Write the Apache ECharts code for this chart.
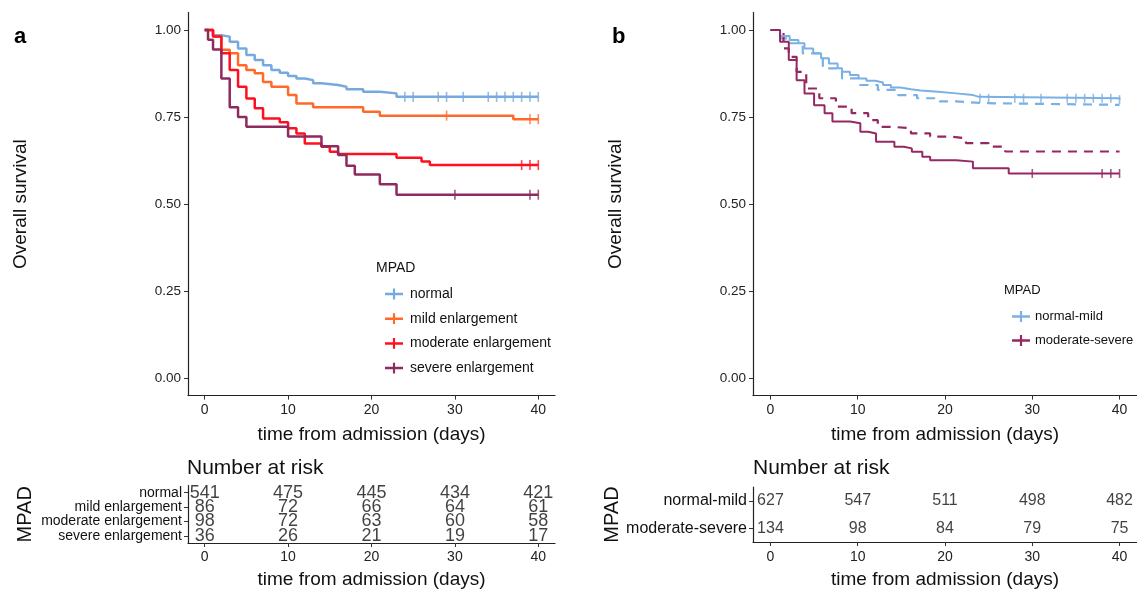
<!DOCTYPE html>
<html>
<head>
<meta charset="utf-8">
<script src="https://cdn.jsdelivr.net/npm/echarts@6/dist/echarts.min.js"></script>
<style>
  html, body { margin: 0; padding: 0; background: #fff; }
  #chart { width: 1137px; height: 590px; }
</style>
</head>
<body>
<div id="chart"></div>
<script>
// ---- panel a : four MPAD groups (step times in days, survival) ----
const normalT = [0, 1, 2, 3, 4, 5, 6, 7, 8, 9, 10, 11, 12, 13, 14, 16, 17, 19, 21, 23, 40];
const normalS = [1, 0.985, 0.981, 0.966, 0.947, 0.928, 0.914, 0.899, 0.885, 0.877, 0.868, 0.861, 0.856, 0.847, 0.842, 0.837, 0.830, 0.823, 0.818, 0.808, 0.808];
const normalCens = [24, 25, 28, 29, 31, 34, 35, 36, 37, 38, 39, 40];

const mildT = [0, 1, 2, 3, 4, 5, 6, 7, 8, 10, 11, 13, 19, 21, 37, 40];
const mildS = [1, 0.981, 0.943, 0.933, 0.899, 0.885, 0.876, 0.851, 0.837, 0.813, 0.789, 0.778, 0.765, 0.754, 0.744, 0.744];
const mildCens = [29, 39, 40];

const moderateT = [0, 1, 2, 3, 4, 5, 6, 7, 9, 10, 11, 12, 14, 15, 16, 23, 26, 27, 40];
const moderateS = [1, 0.981, 0.933, 0.885, 0.837, 0.803, 0.775, 0.746, 0.735, 0.718, 0.703, 0.674, 0.665, 0.650, 0.644, 0.633, 0.622, 0.612, 0.612];
const moderateCens = [38, 39, 40];

const severeT = [0, 0.4, 1, 2, 3, 4, 5, 10, 14, 16, 17, 18, 21, 23, 40];
const severeS = [1, 0.972, 0.944, 0.861, 0.778, 0.750, 0.722, 0.694, 0.666, 0.641, 0.610, 0.585, 0.557, 0.527, 0.527];
const severeCens = [30, 39, 40];

// ---- panel b : two merged groups, solid and dashed curves ----
const nmT = [0, 1.1, 2.2, 3.2, 3.9, 4.9, 5.8, 6.7, 7.7, 8.2, 9.1, 10.1, 11, 12, 12.9, 13.8, 14.9, 16.1, 17.2, 19.2, 21.3, 23.2, 23.9, 40];
const nmS = [1, 0.983, 0.971, 0.962, 0.947, 0.933, 0.919, 0.904, 0.890, 0.880, 0.871, 0.861, 0.854, 0.849, 0.842, 0.835, 0.830, 0.826, 0.823, 0.818, 0.813, 0.808, 0.804, 0.800];
const nmCens = [24, 25, 28, 29, 31, 34, 35, 36, 37, 38, 39, 40];
const nmDashT = [0, 1.1, 2.2, 3.7, 6, 8.2, 10.1, 12.3, 14.6, 16.8, 19.4, 21.3, 24.3, 40];
const nmDashS = [1, 0.976, 0.962, 0.933, 0.890, 0.861, 0.842, 0.828, 0.813, 0.804, 0.795, 0.790, 0.785, 0.785];

const msT = [0, 1.1, 2.1, 3, 3.9, 5, 6.2, 7.1, 9.1, 10.3, 11.2, 12.1, 14.2, 15.3, 16.2, 17.4, 18.3, 21.3, 23.2, 27.3, 40];
const msS = [1, 0.966, 0.914, 0.856, 0.818, 0.784, 0.761, 0.737, 0.732, 0.708, 0.703, 0.679, 0.665, 0.660, 0.650, 0.636, 0.626, 0.622, 0.603, 0.588, 0.588];
const msCens = [30, 38, 39, 40];
const msDashT = [0, 1.5, 2.1, 3, 4.1, 5.6, 7.5, 9.3, 11.2, 12.3, 13.8, 16.1, 18.3, 20.5, 22.4, 25, 26.9, 40];
const msDashS = [1, 0.947, 0.923, 0.880, 0.832, 0.804, 0.780, 0.761, 0.741, 0.722, 0.718, 0.703, 0.694, 0.689, 0.675, 0.665, 0.651, 0.651];

// ---- number at risk tables ----
const riskTimes = [0, 10, 20, 30, 40];
const groupsA = ["normal", "mild enlargement", "moderate enlargement", "severe enlargement"];
const riskA = [
  [541, 475, 445, 434, 421],
  [86, 72, 66, 64, 61],
  [98, 72, 63, 60, 58],
  [36, 26, 21, 19, 17]
];
const groupsB = ["normal-mild", "moderate-severe"];
const riskB = [
  [627, 547, 511, 498, 482],
  [134, 98, 84, 79, 75]
];

const yTicks = [0, 0.25, 0.5, 0.75, 1];

const FONT = "'Liberation Sans', Arial, sans-serif";
const BLUE = "#76AADF", ORANGE = "#FF6A2B", RED = "#FF1020", PURPLE = "#8E2A5E";
const BLUE_B = "#7AB0E3", PURPLE_B = "#952862";

const pairs = (T, S) => T.map((t, i) => [t, S[i]]);
const stepAt = (T, S, t) => {
  let v = S[0];
  for (let i = 0; i < T.length; i++) if (T[i] <= t) v = S[i];
  return v;
};

const chart = echarts.init(document.getElementById("chart"));

function kmLine(name, T, S, color, grid, width, dashed) {
  return {
    name: name,
    type: "line",
    step: "end",
    xAxisIndex: grid,
    yAxisIndex: grid,
    showSymbol: false,
    symbol: "none",
    silent: true,
    itemStyle: { color: color },
    lineStyle: { color: color, width: width, type: dashed ? [9, 7] : "solid" },
    data: pairs(T, S)
  };
}

function censMarks(name, T, S, cens, color, grid, h) {
  return {
    name: name + " censored",
    type: "scatter",
    xAxisIndex: grid,
    yAxisIndex: grid,
    symbol: "rect",
    symbolSize: [1.6, h],
    silent: true,
    itemStyle: { color: color },
    data: cens.map(t => [t, stepAt(T, S, t)])
  };
}

function riskSeries(groups, risk, grid, size) {
  const data = [];
  groups.forEach((g, r) => riskTimes.forEach((t, c) => data.push([t, g, risk[r][c]])));
  return {
    type: "scatter",
    xAxisIndex: grid,
    yAxisIndex: grid,
    symbolSize: 0,
    silent: true,
    label: {
      show: true,
      position: "inside",
      formatter: p => p.value[2],
      color: "#111",
      fontSize: size,
      fontFamily: FONT
    },
    data: data
  };
}

const axisLine = { show: true, onZero: false, lineStyle: { color: "#222", width: 1.2 } };
const tick = vals => ({ show: true, length: 4, lineStyle: { color: "#333" }, customValues: vals });

function timeAxis(grid, margin, nameGap) {
  return {
    type: "value",
    gridIndex: grid,
    min: -2,
    max: 42,
    axisLine: axisLine,
    axisTick: tick(riskTimes),
    axisLabel: { customValues: riskTimes, color: "#222", fontSize: 14, fontFamily: FONT, margin: margin },
    splitLine: { show: false },
    name: "time from admission (days)",
    nameLocation: "middle",
    nameGap: nameGap,
    nameTextStyle: { color: "#111", fontSize: 19, fontFamily: FONT }
  };
}

function survAxis(grid, nameGap) {
  return {
    type: "value",
    gridIndex: grid,
    min: -0.05,
    max: 1.05,
    axisLine: axisLine,
    axisTick: tick(yTicks),
    axisLabel: { customValues: yTicks, formatter: v => v.toFixed(2), color: "#222", fontSize: 13.5, fontFamily: FONT, margin: 7 },
    splitLine: { show: false },
    name: "Overall survival",
    nameLocation: "middle",
    nameRotate: 90,
    nameGap: nameGap,
    nameTextStyle: { color: "#111", fontSize: 19, fontFamily: FONT }
  };
}

function groupAxis(grid, groups, size, nameGap) {
  return {
    type: "category",
    gridIndex: grid,
    data: groups,
    inverse: true,
    axisLine: axisLine,
    axisTick: { show: true, length: 4, alignWithLabel: true, interval: 0, lineStyle: { color: "#333" } },
    axisLabel: { color: "#111", fontSize: size, fontFamily: FONT, margin: 6, interval: 0 },
    splitLine: { show: false },
    name: "MPAD",
    nameLocation: "middle",
    nameRotate: 90,
    nameGap: nameGap,
    nameTextStyle: { color: "#111", fontSize: 20, fontFamily: FONT }
  };
}

const crossIcon = "path://M0,4.6h20v2.8h-20z M8.8,0h2.4v12h-2.4z";

const option = {
  animation: false,
  backgroundColor: "#fff",
  textStyle: { fontFamily: FONT },
  grid: [
    { left: 188, top: 12.6, width: 367, height: 383 },
    { left: 753, top: 12.6, width: 392, height: 383 },
    { left: 188, top: 485.5, width: 367, height: 60 },
    { left: 753, top: 487, width: 392, height: 56 }
  ],
  xAxis: [timeAxis(0, 8, 30), timeAxis(1, 8, 30), timeAxis(2, 7, 27), timeAxis(3, 8, 28)],
  yAxis: [
    survAxis(0, 158),
    survAxis(1, 128),
    groupAxis(2, groupsA, 14, 153),
    groupAxis(3, groupsB, 16, 128)
  ],
  legend: [
    {
      data: ["normal", "mild enlargement", "moderate enlargement", "severe enlargement"],
      orient: "vertical",
      left: 380,
      top: 282,
      itemWidth: 18,
      itemHeight: 14,
      itemGap: 10.7,
      icon: crossIcon,
      itemStyle: { borderWidth: 0 },
      selectedMode: false,
      textStyle: { fontSize: 14, color: "#111", fontFamily: FONT, padding: [0, 0, 0, 2] }
    },
    {
      data: ["normal-mild", "moderate-severe"],
      orient: "vertical",
      left: 1007,
      top: 305,
      itemWidth: 18,
      itemHeight: 14,
      itemGap: 11,
      icon: crossIcon,
      itemStyle: { borderWidth: 0 },
      selectedMode: false,
      textStyle: { fontSize: 13, color: "#111", fontFamily: FONT, padding: [0, 0, 0, 0] }
    }
  ],
  graphic: [
    { type: "text", left: 14, top: 26, style: { text: "a", font: "bold 22px " + FONT, fill: "#000" } },
    { type: "text", left: 612, top: 26, style: { text: "b", font: "bold 22px " + FONT, fill: "#000" } },
    { type: "text", left: 376, top: 261, style: { text: "MPAD", font: "14px " + FONT, fill: "#111" } },
    { type: "text", left: 1004, top: 284, style: { text: "MPAD", font: "13px " + FONT, fill: "#111" } },
    { type: "text", left: 187, top: 458, style: { text: "Number at risk", font: "21px " + FONT, fill: "#111" } },
    { type: "text", left: 753, top: 458, style: { text: "Number at risk", font: "21px " + FONT, fill: "#111" } }
  ],
  series: [
    kmLine("normal", normalT, normalS, BLUE, 0, 2.5),
    kmLine("mild enlargement", mildT, mildS, ORANGE, 0, 2.5),
    kmLine("moderate enlargement", moderateT, moderateS, RED, 0, 2.5),
    kmLine("severe enlargement", severeT, severeS, PURPLE, 0, 2.5),
    censMarks("normal", normalT, normalS, normalCens, BLUE, 0, 10),
    censMarks("mild enlargement", mildT, mildS, mildCens, ORANGE, 0, 10),
    censMarks("moderate enlargement", moderateT, moderateS, moderateCens, RED, 0, 10),
    censMarks("severe enlargement", severeT, severeS, severeCens, PURPLE, 0, 10),

    kmLine("normal-mild dashed", nmDashT, nmDashS, BLUE_B, 1, 2.2, true),
    kmLine("moderate-severe dashed", msDashT, msDashS, PURPLE_B, 1, 2.2, true),
    kmLine("normal-mild", nmT, nmS, BLUE_B, 1, 2),
    kmLine("moderate-severe", msT, msS, PURPLE_B, 1, 2),
    censMarks("normal-mild", nmT, nmS, nmCens, BLUE_B, 1, 9),
    censMarks("moderate-severe", msT, msS, msCens, PURPLE_B, 1, 9),

    riskSeries(groupsA, riskA, 2, 18),
    riskSeries(groupsB, riskB, 3, 16)
  ]
};

chart.setOption(option);
</script>
</body>
</html>
